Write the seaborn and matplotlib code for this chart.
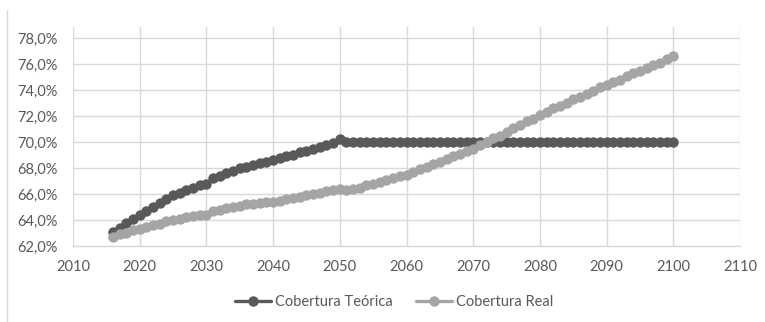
import numpy as np
import pandas as pd
import matplotlib
matplotlib.use("Agg")
import matplotlib.pyplot as plt
from matplotlib.lines import Line2D
from matplotlib.ticker import FuncFormatter, MultipleLocator
import seaborn as sns

years = list(range(2016, 2101))

cobertura_teorica = [
    63.1, 63.4, 63.8, 64.1, 64.4, 64.7, 65.0, 65.3, 65.6, 65.9,
    66.1, 66.3, 66.5, 66.7, 66.8, 67.2, 67.4, 67.6, 67.8, 68.0,
    68.1, 68.2, 68.4, 68.5, 68.6, 68.8, 68.9, 69.0, 69.2, 69.3,
    69.5, 69.6, 69.8, 69.9, 70.2,
] + [70.0] * 50

cobertura_real = [
    62.7, 62.9, 63.0, 63.2, 63.3, 63.5, 63.6, 63.7, 63.9, 64.0,
    64.1, 64.2, 64.3, 64.4, 64.4, 64.7, 64.8, 64.9, 65.0, 65.1,
    65.2, 65.2, 65.3, 65.4, 65.4, 65.5, 65.6, 65.7, 65.8, 65.9,
    66.0, 66.1, 66.2, 66.3, 66.4, 66.3, 66.4, 66.5, 66.7, 66.8,
    66.9, 67.1, 67.2, 67.4, 67.5, 67.7, 67.9, 68.1, 68.3, 68.5,
    68.7, 68.9, 69.1, 69.3, 69.5, 69.8, 70.0, 70.3, 70.5, 70.8,
    71.1, 71.3, 71.6, 71.8, 72.1, 72.3, 72.6, 72.8, 73.0, 73.3,
    73.5, 73.7, 73.9, 74.2, 74.4, 74.6, 74.8, 75.1, 75.3, 75.5,
    75.7, 75.9, 76.1, 76.4, 76.6,
]

series_names = ["Cobertura Teórica", "Cobertura Real"]
series_colors = ["#595959", "#A5A5A5"]

df = pd.DataFrame({
    "Año": years * 2,
    "Cobertura": cobertura_teorica + cobertura_real,
    "Serie": [series_names[0]] * len(years) + [series_names[1]] * len(years),
})

sns.set_theme(style="white")
plt.rcParams["font.family"] = ["Lato", "DejaVu Sans"]

fig = plt.figure(figsize=(7.65, 3.22), dpi=100)
ax = fig.add_axes([73 / 765, 1 - 246 / 322, (740 - 73) / 765, (246 - 27) / 322])

sns.lineplot(
    data=df, x="Año", y="Cobertura", hue="Serie",
    palette=dict(zip(series_names, series_colors)),
    marker="o", markersize=7.5, markeredgewidth=0, linewidth=2.4,
    ax=ax, legend=False, zorder=3,
)

ax.set_xlim(2010, 2110)
ax.set_ylim(62, 78.85)
ax.xaxis.set_major_locator(MultipleLocator(10))
ax.yaxis.set_major_locator(MultipleLocator(2))
ax.yaxis.set_major_formatter(FuncFormatter(lambda v, _: f"{v:.1f}%".replace(".", ",")))
ax.set_xlabel("")
ax.set_ylabel("")

ax.grid(True, color="#D9D9D9", linewidth=1.0)
ax.set_axisbelow(True)
for side in ["top", "right", "left"]:
    ax.spines[side].set_visible(False)
ax.spines["bottom"].set_color("#D9D9D9")
ax.spines["bottom"].set_linewidth(1.0)
ax.tick_params(axis="both", length=0, colors="#595959", labelsize=10.5)
ax.tick_params(axis="y", pad=11)
ax.tick_params(axis="x", pad=10)

handles = [
    Line2D([], [], color=c, linewidth=2.4, marker="o", markersize=7.5, markeredgewidth=0)
    for c in series_colors
]
fig.legend(
    handles, series_names, loc="center", bbox_to_anchor=(394 / 765, 1 - 302 / 322),
    ncol=2, frameon=False, fontsize=10.5, handlelength=2.5, handletextpad=0.25,
    columnspacing=1.6, labelcolor="#595959",
)

# thin frame edge on the left of the chart area
fig.add_artist(Line2D([7 / 765, 7 / 765], [0, 1 - 10 / 322], color="#D9D9D9",
                      linewidth=1.0, transform=fig.transFigure))

fig.savefig("out.png", dpi=100)
